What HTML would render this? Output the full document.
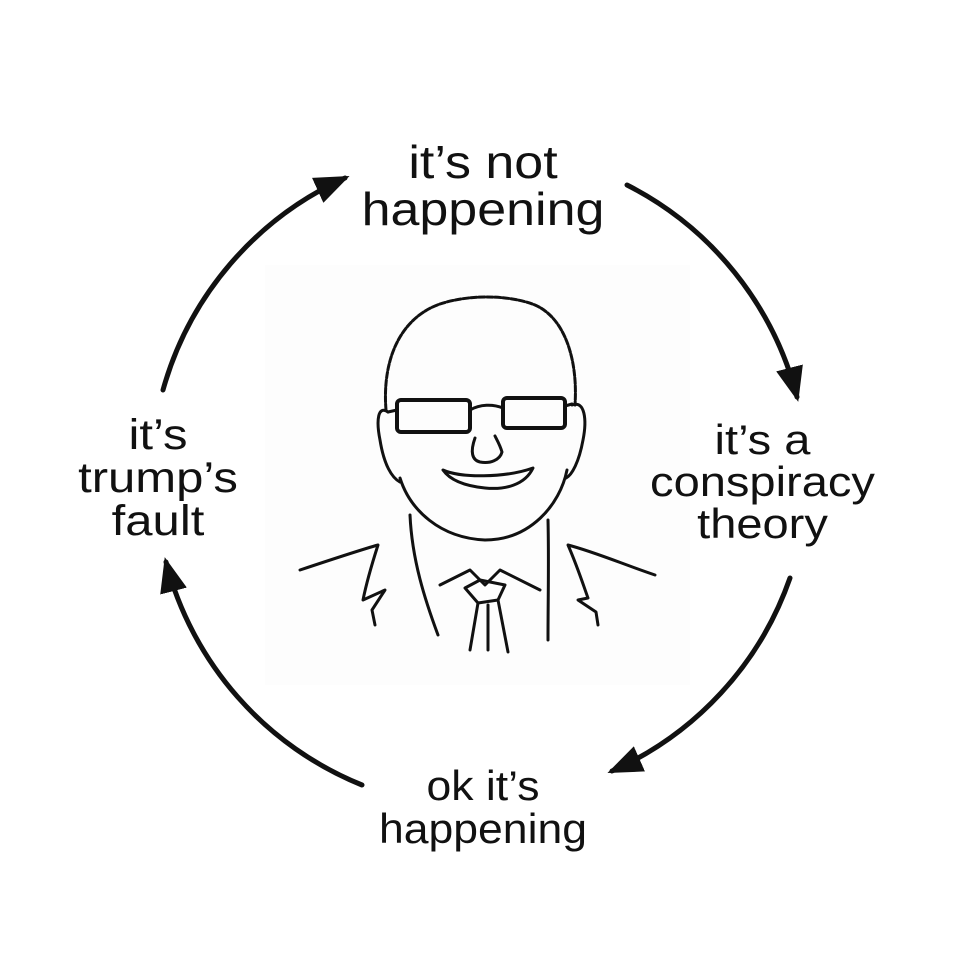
<!DOCTYPE html>
<html><head><meta charset="utf-8"><style>
html,body{margin:0;padding:0;background:#fff;}
body{width:960px;height:960px;position:relative;overflow:hidden;font-family:"Liberation Sans",sans-serif;color:#111;}
.t{position:absolute;text-align:center;line-height:1;}
</style></head><body>
<div style="position:absolute;left:265px;top:265px;width:425px;height:420px;background:#fdfdfd"></div>
<svg width="960" height="960" style="position:absolute;left:0;top:0">
<defs><marker id="a" markerWidth="7" markerHeight="5.5" refX="6" refY="2.75" orient="auto" markerUnits="strokeWidth"><path d="M0,0 L7,2.75 L0,5.5 Z" fill="#111"/></marker></defs>
<g fill="none" stroke="#111" stroke-width="5" stroke-linecap="round">
<path d="M163,390 A330,330 0 0 1 345,178" marker-end="url(#a)"/>
<path d="M627,185 A330,330 0 0 1 797,397" marker-end="url(#a)"/>
<path d="M790,578 A330,330 0 0 1 612,771" marker-end="url(#a)"/>
<path d="M362,785 A330,330 0 0 1 166,562" marker-end="url(#a)"/>
</g>
<g fill="none" stroke="#111" stroke-width="3" stroke-linecap="round" stroke-linejoin="round">
<path d="M386,410 C382,360 400,318 440,304 C470,294 510,295 535,305 C565,318 578,360 575,405" stroke-dasharray="6 2"/>
<path d="M388,412 C378,405 376,420 380,440 C384,465 392,478 400,482"/>
<path d="M572,405 C585,400 587,420 583,440 C579,462 572,475 566,478"/>
<path d="M400,478 C410,510 440,538 485,540 C530,540 560,505 567,470"/>
<rect x="397" y="400" width="73" height="32" rx="4" stroke-width="4"/>
<rect x="503" y="398" width="62" height="30" rx="4" stroke-width="4"/>
<path d="M470,410 C480,404 493,404 503,408 M397,410 L388,412 M565,406 L572,404"/>
<path d="M475,438 C470,452 472,460 480,462 C490,464 500,460 502,452 C500,445 497,440 495,436"/>
<path d="M443,470 C460,478 505,478 533,468 C525,485 505,490 485,488 C465,486 450,480 443,470 Z"/>
<path d="M410,515 C412,560 425,600 438,635"/>
<path d="M548,520 C549,560 548,600 548,640"/>
<path d="M300,570 C330,560 360,550 378,545 C370,570 365,590 363,600 L385,590 L372,610 L375,625"/>
<path d="M655,575 C625,565 595,552 568,545 C578,568 585,590 588,598 L578,600 L596,612 L598,625"/>
<path d="M440,585 L470,570 L485,585 L500,570 L540,590"/>
<path d="M465,588 L480,580 L505,585 L498,600 L478,603 Z"/>
<path d="M478,603 L470,650 M498,600 L508,652 M488,605 L488,650"/>
</g>
</svg>
<div class="t" style="left:333px;top:139px;width:300px;font-size:46px;line-height:47px;transform:scaleX(1.13);">it’s not<br>happening</div>
<div class="t" style="left:630px;top:419px;width:265px;font-size:42px;line-height:42px;transform:scaleX(1.12);">it’s a<br>conspiracy<br>theory</div>
<div class="t" style="left:333px;top:764px;width:300px;font-size:42px;line-height:43px;transform:scaleX(1.06);">ok it’s<br>happening</div>
<div class="t" style="left:58px;top:414px;width:200px;font-size:43px;line-height:43px;transform:scaleX(1.14);">it’s<br>trump’s<br>fault</div>
</body></html>
